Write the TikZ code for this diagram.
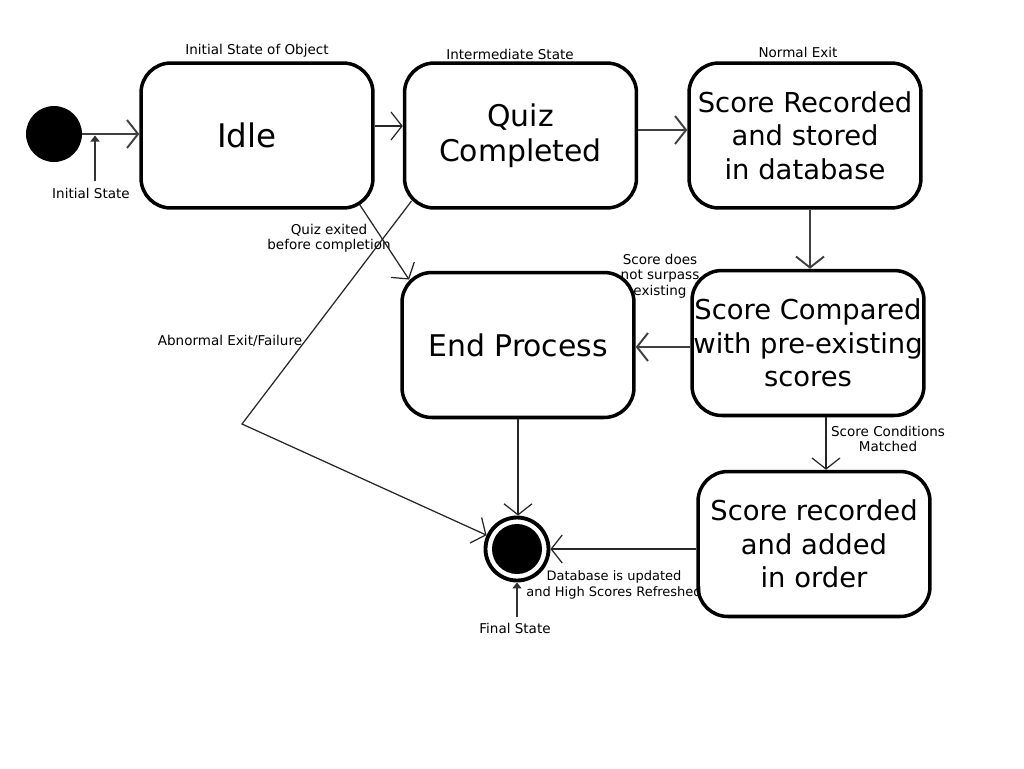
\documentclass[tikz,border=0pt]{standalone}
\usepackage{fontspec}
\setmainfont{DejaVu Sans}
\usetikzlibrary{arrows.meta}
\begin{document}
\begin{tikzpicture}[x=0.02cm,y=-0.02cm,
  state/.style={draw, line width=2pt, rounded corners=17pt, minimum width=4.64cm, minimum height=2.9cm, align=center, inner sep=0pt, fill=white},
  big/.style={font=\fontsize{17}{19.8}\selectfont},
  bigger/.style={font=\fontsize{18.5}{20}\selectfont},
  mid/.style={font=\fontsize{15.6}{19}\selectfont},
  lbl/.style={font=\fontsize{7.7}{8.8}\selectfont, align=center, inner sep=0pt},
  conn/.style={line width=0.7pt, black!85, -{Straight Barb[length=0.22cm,width=0.56cm]}},
  thick conn/.style={conn, line width=1.1pt, black!75},
  ptr/.style={line width=0.9pt, black!80, -{Triangle[length=0.12cm,width=0.18cm]}},
]
\fill[white] (0,0) rectangle (1024,768);
\useasboundingbox (0,0) rectangle (1024,768);

% states
\node[circle, fill=black, minimum size=1.12cm, inner sep=0pt] (init) at (54,134) {};
\node[state, bigger] (idle) at (257,135.5) {Idle\hspace*{0.4cm}};
\node[state, big] (quiz) at (520.5,135.5) {Quiz\\Completed};
\node[state, mid] (rec) at (805,135.5) {Score Recorded\\and stored\\ in database};
\node[state, big] (endp) at (518,345) {End Process};
\node[state, mid] (cmp) at (808,343) {Score Compared\\with pre-existing\\scores};
\node[state, mid] (add) at (814,544) {Score recorded\\and added\\in order};
\node[circle, draw, line width=2.2pt, fill=white, minimum size=1.26cm, inner sep=0pt] (final) at (517,549) {};
\fill[black] (final.center) circle [radius=0.5cm];

% labels
\node[lbl] (lobj) at (257,51) {Initial State of Object};
\node[lbl] (linter) at (510,54) {Intermediate State};
\node[lbl] (lexit) at (798,52) {Normal Exit};
\node[lbl] (istate) at (91,193) {Initial State};
\node[lbl] (fstate) at (515,628) {Final State};
\node[lbl] (lquit) at (329,238) {Quiz exited\\before completion};
\node[lbl] (labn) at (230,341) {Abnormal Exit/Failure};
\node[lbl] (lnot) at (660,276) {Score does\\not surpass\\existing};
\node[lbl] (lmatch) at (888,439) {Score Conditions\\Matched};
\node[lbl, font=\fontsize{7.4}{8.8}\selectfont] (ldb) at (614,585) {Database is updated\\and High Scores Refreshed};

% connectors
\draw[thick conn] (init.east) -- (init.east -| idle.west);
\draw[conn] ([yshift=0.19cm]idle.east) -- ([yshift=0.19cm]idle.east -| quiz.west);
\draw[thick conn] ([yshift=0.11cm]quiz.east) -- ([yshift=0.11cm]quiz.east -| rec.west);
\draw[thick conn] ([xshift=0.1cm]rec.south) -- ([xshift=0.1cm]rec.south |- cmp.north);
\draw[thick conn] ([yshift=-0.08cm]cmp.west) -- ([yshift=-0.08cm]cmp.west -| endp.east);
\draw[conn] ([xshift=0.36cm]cmp.south) -- ([xshift=0.36cm]cmp.south |- add.north);
\draw[conn] (final.east -| add.west) -- (final.east);
\draw[conn] (endp.south) -- (endp.south |- final.north);
\draw[conn] ([xshift=-0.3cm,yshift=0.1cm]idle.south east) -- ([shift={(0.176cm,-0.176cm)}]endp.north west);
\coordinate (abn) at (242,424);
\draw[conn] ([shift={(0.176cm,0.176cm)}]quiz.south west) -- (abn) -- (final);

% pointers
\coordinate (ip) at (95,135.5);
\draw[ptr] ([yshift=0.12cm]istate.north -| ip) -- (ip);
\draw[ptr] ([yshift=0.1cm]fstate.north -| final.south) -- (final.south);
\end{tikzpicture}
\end{document}
